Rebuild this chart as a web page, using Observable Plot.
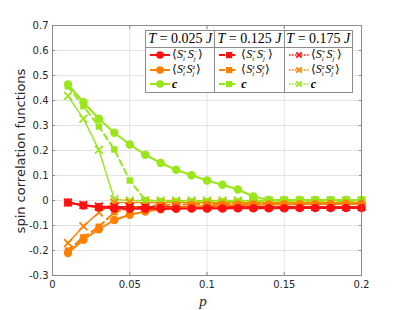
<!DOCTYPE html>
<html>
<head>
<meta charset="utf-8">
<script src="https://cdn.jsdelivr.net/npm/d3@7"></script>
<script src="https://cdn.jsdelivr.net/npm/@observablehq/plot@0.6"></script>
<style>
  body { margin: 0; background: #fff; }
  #wrap { position: relative; width: 399px; height: 310px; overflow: hidden; }
  #legend { position: absolute; left: 145px; top: 30px; width: 206px; height: 61px;
            border: 1px solid #8c8c8c; background: #fff; display: flex; box-sizing: content-box; }
  .col { height: 61px; border-right: 1px solid #8c8c8c; }
  .col:last-child { border-right: none; }
  .hdr { height: 16px; line-height: 16px; border-bottom: 1px solid #8c8c8c; text-align: center;
         font-family: "Liberation Serif", serif; font-size: 14px; white-space: nowrap; }
  .row { height: 14.6px; display: flex; align-items: center; padding-left: 3px;
         font-family: "Liberation Serif", serif; font-size: 12px; line-height: 12px; white-space: nowrap; }
  .row svg { flex: none; }
  .ss { display: inline-flex; flex-direction: column; font-size: 6.6px; line-height: 7.3px; vertical-align: middle; margin-right: 1px; }
  .ylab { position: absolute; left: 20px; top: 151px; transform: translate(-50%,-50%) rotate(-90deg);
          font-family: "DejaVu Sans", sans-serif; font-size: 13px; color: #262626; white-space: nowrap; }
  .xlab { position: absolute; left: 203px; top: 301px; transform: translate(-50%,-50%);
          font-family: "Liberation Serif", serif; font-style: italic; font-size: 15px; color: #262626; }
</style>
</head>
<body>
<div id="wrap"></div>
<script>
// ---- data ----
const p = [0.01,0.02,0.03,0.04,0.05,0.06,0.07,0.08,0.09,0.10,0.11,0.12,0.13,0.14,0.15,0.16,0.17,0.18,0.19,0.20];

const temps = ["0.025", "0.125", "0.175"];
const quantities = ["pm", "zz", "c"];

// T = 0.025 J
const pm025 = [-0.008,-0.020,-0.027,-0.032,-0.033,-0.033,-0.033,-0.033,-0.032,-0.032,-0.032,-0.031,-0.031,-0.031,-0.031,-0.030,-0.030,-0.030,-0.030,-0.030];
const zz025 = [-0.210,-0.157,-0.115,-0.078,-0.057,-0.044,-0.035,-0.029,-0.025,-0.022,-0.020,-0.018,-0.017,-0.016,-0.015,-0.015,-0.014,-0.014,-0.013,-0.013];
const c025  = [0.464,0.393,0.327,0.271,0.224,0.183,0.150,0.123,0.101,0.080,0.063,0.044,0.016,0.002,0.002,0.002,0.002,0.002,0.002,0.002];
// T = 0.125 J
const pm125 = [-0.008,-0.019,-0.025,-0.027,-0.027,-0.027,-0.027,-0.027,-0.027,-0.027,-0.027,-0.027,-0.027,-0.027,-0.027,-0.027,-0.027,-0.027,-0.027,-0.027];
const zz125 = [-0.200,-0.147,-0.105,-0.047,-0.030,-0.022,-0.018,-0.016,-0.015,-0.014,-0.014,-0.014,-0.013,-0.013,-0.013,-0.013,-0.013,-0.013,-0.013,-0.013];
const c125  = [0.456,0.377,0.296,0.204,0.080,0.002,-0.003,-0.003,-0.003,-0.003,-0.003,-0.003,-0.003,-0.003,-0.003,-0.003,-0.003,-0.003,-0.003,-0.003];
// T = 0.175 J
const pm175 = [-0.008,-0.018,-0.024,-0.025,-0.025,-0.025,-0.025,-0.025,-0.025,-0.025,-0.025,-0.025,-0.025,-0.025,-0.025,-0.025,-0.025,-0.025,-0.025,-0.025];
const zz175 = [-0.170,-0.103,-0.048,-0.008,-0.008,-0.008,-0.008,-0.008,-0.008,-0.008,-0.008,-0.008,-0.008,-0.008,-0.008,-0.008,-0.008,-0.008,-0.008,-0.008];
const c175  = [0.418,0.327,0.203,0.005,0.000,0.000,0.000,0.000,0.000,0.000,0.000,0.000,0.000,0.000,0.000,0.000,0.000,0.000,0.000,0.000];

const xTicks = [0, 0.05, 0.1, 0.15, 0.2];
const xTickLabels = ["0", "0.05", "0.1", "0.15", "0.2"];
const yTicks = [-0.3,-0.2,-0.1,0,0.1,0.2,0.3,0.4,0.5,0.6,0.7];
const yTickLabels = ["-0.3","-0.2","-0.1","0","0.1","0.2","0.3","0.4","0.5","0.6","0.7"];

// ---- styles ----
const colors = { pm: "#ff1010", zz: "#ff8000", c: "#99e619" };
const styleT = {
  "0.025": { dash: null, symbol: "circle", r: 4.2, width: 2 },
  "0.125": { dash: "6,4", symbol: "square", r: 3.6, width: 2 },
  "0.175": { dash: "1.5,1.5", symbol: "times", r: 3.6, width: 1.6 }
};
const values = {
  "0.025": { pm: pm025, zz: zz025, c: c025 },
  "0.125": { pm: pm125, zz: zz125, c: c125 },
  "0.175": { pm: pm175, zz: zz175, c: c175 }
};

const marks = [
  Plot.gridX(xTicks, { stroke: "#e3e3e3", strokeOpacity: 1 }),
  Plot.gridY(yTicks, { stroke: "#e3e3e3", strokeOpacity: 1 }),
];

const drawOrder = ["0.175", "0.125", "0.025"];
for (const T of drawOrder) {
  for (const q of ["c", "zz", "pm"]) {
    const s = styleT[T];
    const data = p.map((x, i) => ({ x, y: values[T][q][i] }));
    marks.push(Plot.line(data, { x: "x", y: "y", stroke: colors[q], strokeWidth: s.width,
      strokeDasharray: s.dash ?? undefined }));
    if (s.symbol === "times") {
      marks.push(Plot.dot(data, { x: "x", y: "y", symbol: "times", r: s.r, stroke: colors[q], strokeWidth: 1.8 }));
    } else {
      marks.push(Plot.dot(data, { x: "x", y: "y", symbol: s.symbol, r: s.r, fill: colors[q], stroke: "none" }));
    }
  }
}

marks.push(
  Plot.frame({ stroke: "#8c8c8c" }),
  Plot.axisX(xTicks, { anchor: "bottom", tickSize: 0, tickPadding: 5, fontSize: 10, color: "#262626",
    tickFormat: (d) => xTickLabels[xTicks.indexOf(d)], label: null, fontFamily: "DejaVu Sans" }),
  Plot.axisX(xTicks, { anchor: "bottom", tickSize: 3, dy: -3, text: null, stroke: "#8c8c8c", label: null }),
  Plot.axisX(xTicks, { anchor: "top", tickSize: 3, dy: 3, text: null, stroke: "#8c8c8c", label: null }),
  Plot.axisY(yTicks, { anchor: "left", tickSize: 0, tickPadding: 4, fontSize: 10, color: "#262626",
    tickFormat: (d) => yTickLabels[yTicks.indexOf(d)], label: null, fontFamily: "DejaVu Sans" }),
  Plot.axisY(yTicks, { anchor: "left", tickSize: 3, dx: 3, text: null, stroke: "#8c8c8c", label: null }),
  Plot.axisY(yTicks, { anchor: "right", tickSize: 3, dx: -3, text: null, stroke: "#8c8c8c", label: null })
);

const chart = Plot.plot({
  width: 399, height: 310,
  marginLeft: 52, marginRight: 38, marginTop: 25, marginBottom: 35,
  x: { domain: [0, 0.2] },
  y: { domain: [-0.3, 0.7] },
  style: { background: "#fff", overflow: "visible" },
  marks
});

const wrap = document.getElementById("wrap");
wrap.appendChild(chart);

// axis labels
const yl = document.createElement("div"); yl.className = "ylab"; yl.textContent = "spin correlation functions"; wrap.appendChild(yl);
const xl = document.createElement("div"); xl.className = "xlab"; xl.textContent = "p"; wrap.appendChild(xl);

// legend
const mathLabels = {
  pm: '⟨<i>S</i><span class="ss"><span>+</span><span><i>i</i></span></span><i>S</i><span class="ss"><span>−</span><span><i>j</i></span></span>⟩',
  zz: '⟨<i>S</i><span class="ss"><span><i>z</i></span><span><i>i</i></span></span><i>S</i><span class="ss"><span><i>z</i></span><span><i>j</i></span></span>⟩',
  c: '<b><i>c</i></b>'
};
function sample(T, q) {
  const s = styleT[T], col = colors[q];
  let sym;
  if (s.symbol === "circle") sym = `<circle cx="11" cy="6" r="3.8" fill="${col}"/>`;
  else if (s.symbol === "square") sym = `<rect x="8" y="3" width="6.2" height="6.2" fill="${col}"/>`;
  else sym = `<path d="M8.3,3.3L13.7,8.7M13.7,3.3L8.3,8.7" stroke="${col}" stroke-width="1.8"/>`;
  const dash = s.dash ? `stroke-dasharray="${s.dash}"` : "";
  return `<svg width="22" height="12"><line x1="1" x2="21" y1="6" y2="6" stroke="${col}" stroke-width="${s.width}" ${dash}/>${sym}</svg>`;
}
const legend = document.createElement("div"); legend.id = "legend";
const colW = [69, 69, 68];
temps.forEach((T, k) => {
  const col = document.createElement("div"); col.className = "col"; col.style.width = colW[k] + "px";
  let html = `<div class="hdr"><i>T</i> = ${T} <i>J</i></div>`;
  for (const q of quantities) html += `<div class="row">${sample(T, q)}<span style="margin-left:1px">${mathLabels[q]}</span></div>`;
  col.innerHTML = html;
  legend.appendChild(col);
});
wrap.appendChild(legend);
</script>
</body>
</html>
